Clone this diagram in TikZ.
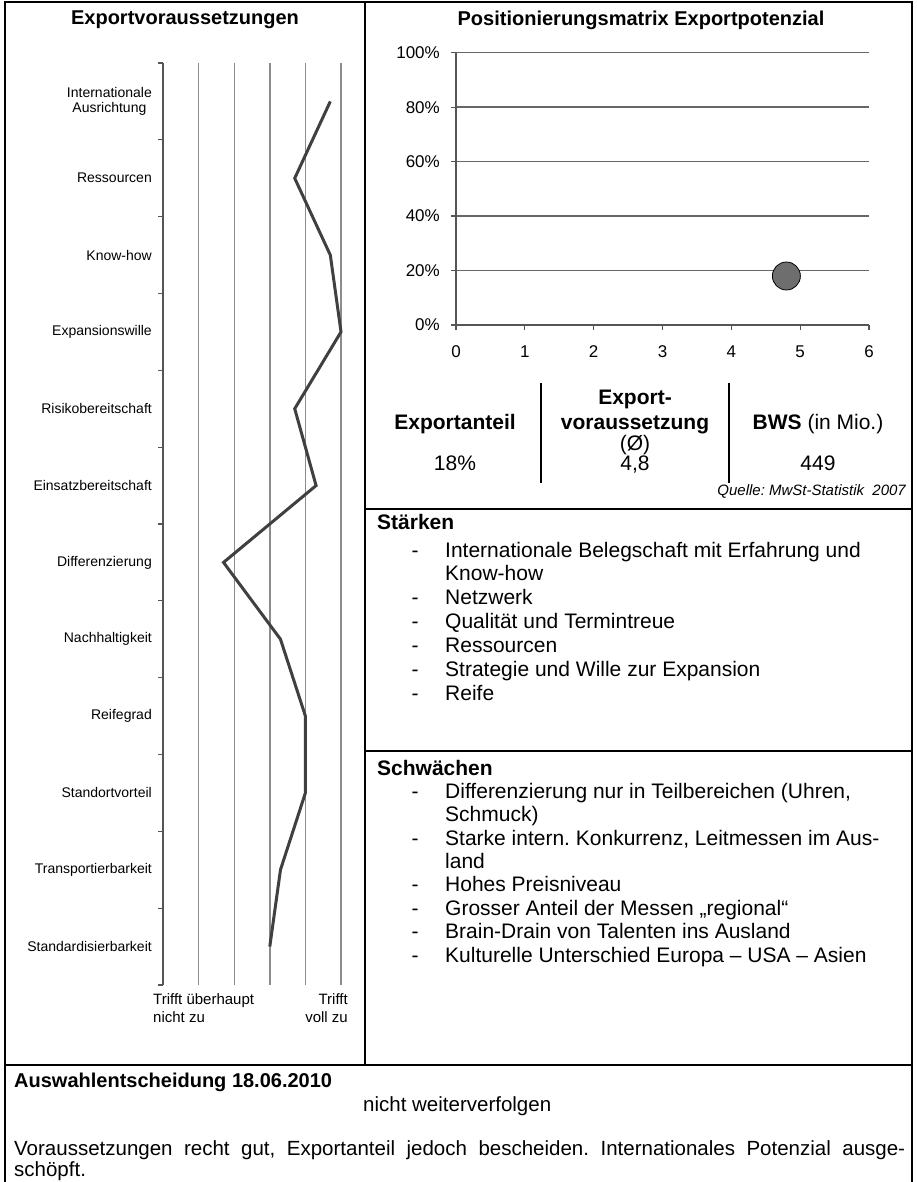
\documentclass[tikz,border=0pt]{standalone}
\usepackage{fontspec}
\setmainfont{Liberation Sans}
\usetikzlibrary{positioning}
\frenchspacing
\definecolor{profilegray}{HTML}{404040}
\definecolor{gridgray}{HTML}{8C8C8C}
\definecolor{axisgray}{HTML}{555555}
\definecolor{matrixgray}{HTML}{666666}
\definecolor{bubblegray}{HTML}{6E6E6E}
\tikzset{
		frame/.style={black, line width=1.6pt},
		charttitle/.style={font=\fontsize{20}{23}\selectfont\bfseries, inner sep=0pt},
		crit/.style={font=\fontsize{14}{15.5}\selectfont, anchor=east, align=center, inner sep=0pt},
		scalelabel/.style={font=\fontsize{15}{18}\selectfont, inner sep=0pt},
		ticklabel/.style={font=\fontsize{17}{19}\selectfont, inner sep=0pt},
		bodytext/.style={font=\fontsize{21}{23.5}\selectfont, inner sep=0pt, anchor=base west},
		boldtext/.style={font=\fontsize{21}{23.5}\selectfont\bfseries, inner sep=0pt, anchor=base west},
		cell/.style={font=\fontsize{21}{23.5}\selectfont, inner sep=0pt, anchor=base},
		boldcell/.style={font=\fontsize{21}{23.5}\selectfont\bfseries, inner sep=0pt, anchor=base}
	}
\begin{document}
\begin{tikzpicture}[x=1pt, y=-1pt]
		\useasboundingbox (0,0) rectangle (917,1182);
		% Frame
		\draw[frame] (5,1182) -- (5,2) -- (912,2) -- (912,1182);
		\draw[frame] (365,2) -- (365,1065);
		\draw[frame] (5,1065) -- (912,1065);
		\draw[frame] (365,509) -- (912,509);
		\draw[frame] (365,751) -- (912,751);
		% Exportvoraussetzungen
		\node[charttitle] (ltitle) at (185,20) {Exportvoraussetzungen};
		\foreach \g in {2,...,6} {
			\draw[gridgray, line width=1.4pt] ({163+(\g-1)*35.6},63) -- ({163+(\g-1)*35.6},985);
		}
		\draw[axisgray, line width=2.4pt] (163,63) -- (163,985);
		\foreach \k in {0,...,12} {
			\draw[axisgray, line width=1.2pt] (158,{63+\k*76.83}) -- (163,{63+\k*76.83});
		}
		\foreach \name [count=\k] in {{Internationale\\Ausrichtung},Ressourcen,Know-how,Expansionswille,Risikobereitschaft,Einsatzbereitschaft,Differenzierung,Nachhaltigkeit,Reifegrad,Standortvorteil,Transportierbarkeit,Standardisierbarkeit} {
			\node[crit] (crit\k) at (152,{63+(\k-0.5)*76.83}) {\name};
		}
		\foreach \v [count=\k] in {5.7,4.7,5.7,6,4.7,5.3,2.7,4.3,5,5,4.3,4} {
			\coordinate (p\k) at ({163+(\v-1)*35.6},{63+(\k-0.5)*76.83});
		}
		\draw[profilegray, line width=3pt] (p1) -- (p2) -- (p3) -- (p4) -- (p5) -- (p6) -- (p7) -- (p8) -- (p9) -- (p10) -- (p11) -- (p12);
		\node[scalelabel, anchor=north west, align=left] (tlow) at (153,993) {Trifft überhaupt\\nicht zu};
		\node[scalelabel, anchor=north east, align=right] (thigh) at (348,993) {Trifft\\voll zu};
		% Positionierungsmatrix
		\node[charttitle] (rtitle) at (641,20) {Positionierungsmatrix Exportpotenzial};
		\foreach \p in {1,...,5} {
			\draw[matrixgray, line width=1.5pt] (456,{325-\p*54.45}) -- (869,{325-\p*54.45});
		}
		\draw[axisgray, line width=1.8pt] (456,52.75) -- (456,325) -- (869,325);
		\foreach \p/\lab in {0/0,1/20,2/40,3/60,4/80,5/100} {
			\draw[axisgray, line width=1.2pt] (451,{325-\p*54.45}) -- (456,{325-\p*54.45});
			\node[ticklabel, anchor=east] (ylab\p) at (440,{325-\p*54.45}) {\lab\%};
		}
		\foreach \q in {0,...,6} {
			\draw[axisgray, line width=1.2pt] ({456+\q*68.83},325) -- ({456+\q*68.83},330);
			\node[ticklabel, anchor=base] (xlab\q) at ({456+\q*68.83},357) {\q};
		}
		\node[circle, draw=black, fill=bubblegray, line width=0.8pt, minimum size=28pt, inner sep=0pt] (bubble) at ({456+4.8*68.83},{325-0.18*272.25}) {};
		% Kennzahlen
		\draw[black, line width=1.5pt] (541,383) -- (541,483);
		\draw[black, line width=1.5pt] (729,383) -- (729,483);
		\node[boldcell] (hanteil) at (455,429) {Exportanteil};
		\node[boldcell] (hvor1) at (635,404) {Export-};
		\node[boldcell] (hvor2) at (635,429) {voraussetzung};
		\node[cell] (hvor3) at (635,450) {(Ø)};
		\node[cell] (hbws) at (818,429) {\textbf{BWS} (in Mio.)};
		\node[cell] (vanteil) at (455,470) {18\%};
		\node[cell] (vvor) at (635,470) {4,8};
		\node[cell] (vbws) at (818,470) {449};
		\node[font=\fontsize{15}{17}\selectfont\itshape, inner sep=0pt, anchor=base east] (quelle) at (906,495) {Quelle: MwSt-Statistik~~2007};
		% Staerken
		\node[boldtext] (staerken) at (377,529) {Stärken};
		\foreach \y in {550,597,621,645,669,693} {
			\node[cell] at (415,\y+7.5) {-};
		}
		\foreach \y/\txt [count=\i] in {550/Internationale Belegschaft mit Erfahrung und,573/Know-how,597/Netzwerk,621/Qualität und Termintreue,645/Ressourcen,669/Strategie und Wille zur Expansion,693/Reife} {
			\node[bodytext] (st\i) at (445,\y+7.5) {\txt};
		}
		% Schwaechen
		\node[boldtext] (schwaechen) at (377,775) {Schwächen};
		\foreach \y in {791,838,884,908,931,955} {
			\node[cell] at (415,\y+7.5) {-};
		}
		\foreach \y/\txt [count=\i] in {791/{Differenzierung nur in Teilbereichen (Uhren,},814/Schmuck),838/{Starke intern. Konkurrenz, Leitmessen im Aus-},861/land,884/Hohes Preisniveau,908/Grosser Anteil der Messen „regional“,931/Brain-Drain von Talenten ins Ausland,955/Kulturelle Unterschied Europa – USA – Asien} {
			\node[bodytext] (sw\i) at (445,\y+7.5) {\txt};
		}
		% Auswahlentscheidung
		\node[boldtext, font=\fontsize{20}{23}\selectfont\bfseries] (entscheid) at (14,1087) {Auswahlentscheidung 18.06.2010};
		\node[bodytext, font=\fontsize{20.5}{23}\selectfont] (verdict) at (363,1111) {nicht weiterverfolgen};
		\node[bodytext, font=\fontsize{20.5}{23}\selectfont] (comment1) at (14,1155) {\makebox[891pt][s]{Voraussetzungen recht gut, Exportanteil jedoch bescheiden. Internationales Potenzial ausge-}};
		\node[bodytext, font=\fontsize{20.5}{23}\selectfont] (comment2) at (14,1176) {schöpft.};
	\end{tikzpicture}
\end{document}
